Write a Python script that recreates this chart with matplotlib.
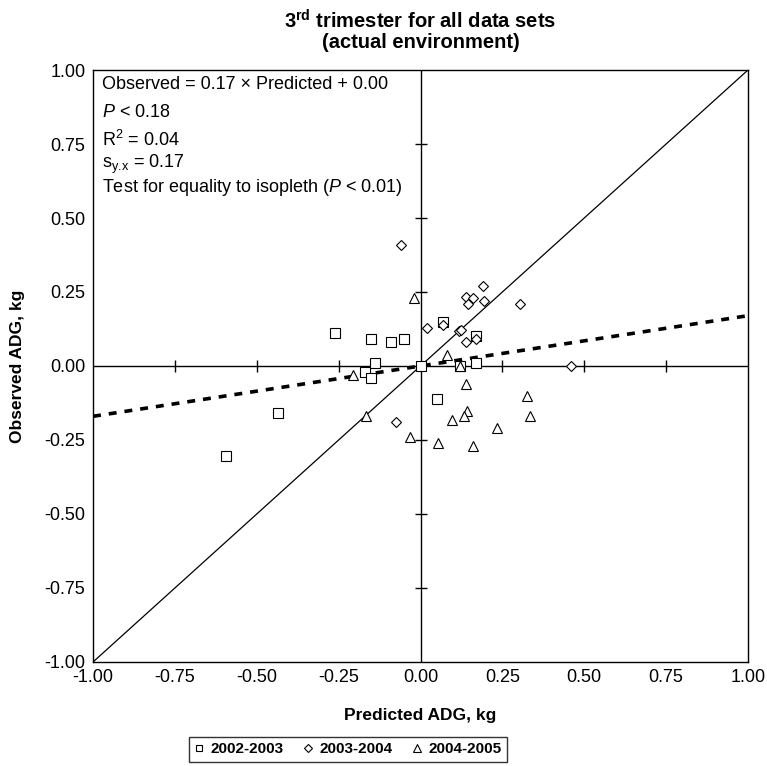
import matplotlib
matplotlib.use('Agg')
import matplotlib.pyplot as plt
import numpy as np

plt.rcParams['font.family'] = ['Liberation Sans', 'DejaVu Sans']
plt.rcParams['mathtext.fontset'] = 'custom'
plt.rcParams['mathtext.rm'] = 'Liberation Sans'
plt.rcParams['mathtext.it'] = 'Liberation Sans:italic'
plt.rcParams['mathtext.bf'] = 'Liberation Sans:bold'

# Data (predicted, observed ADG in kg)
pred_0203 = [-0.26, -0.15, -0.09, -0.05, 0.07, 0.17, -0.14, -0.17, -0.15, 0.00, 0.12, 0.17, 0.05, -0.435, -0.595]
obs_0203 = [0.11, 0.09, 0.08, 0.09, 0.15, 0.10, 0.01, -0.02, -0.04, 0.00, 0.00, 0.01, -0.11, -0.16, -0.305]

pred_0304 = [0.19, 0.14, 0.16, 0.146, 0.194, 0.305, 0.02, 0.07, 0.119, 0.125, 0.138, 0.168, -0.074, -0.06, 0.46]
obs_0304 = [0.27, 0.233, 0.23, 0.21, 0.22, 0.211, 0.13, 0.139, 0.119, 0.123, 0.08, 0.092, -0.19, 0.41, 0.00]

pred_0405 = [-0.02, 0.08, 0.12, -0.205, 0.138, 0.324, 0.141, 0.134, 0.097, 0.334, 0.234, -0.167, -0.033, 0.052, 0.161]
obs_0405 = [0.23, 0.038, 0.00, -0.032, -0.06, -0.10, -0.151, -0.17, -0.181, -0.17, -0.211, -0.17, -0.239, -0.26, -0.271]

series_labels = ['2002-2003', '2003-2004', '2004-2005']

# Regression of observed on predicted
slope = 0.17
intercept = 0.00

ticks = np.arange(-1.0, 1.01, 0.25)
tick_labels = ['%.2f' % t for t in ticks]

stats_lines = [
    'Observed = 0.17 \u00d7 Predicted + 0.00',
    '$P$ < 0.18',
    'R$^2$ = 0.04',
    's$_{\\mathrm{y.\\!x}}$ = 0.17',
    'Test for equality to isopleth ($P$ < 0.01)',
]

fig = plt.figure(figsize=(7.67, 7.66), dpi=100)
ax = fig.add_axes([0.1213, 0.1358, 0.8539, 0.7728])

# isopleth and regression line
line_x = np.array([-1.0, 1.0])
ax.plot(line_x, line_x, color='black', lw=0.9, zorder=2)
ax.plot(line_x, slope * line_x + intercept, color='black', lw=2.6, ls=(0, (2.2, 2.2)), zorder=2)

# axes through origin with crossing ticks
ax.axhline(0, color='black', lw=1.0, zorder=1)
ax.axvline(0, color='black', lw=1.0, zorder=1)
inner = ticks[(ticks != 0) & (np.abs(ticks) < 1)]
ax.plot(inner, np.zeros_like(inner), ls='none', marker='|', ms=8, mew=1.0, color='black', zorder=1)
ax.plot(np.zeros_like(inner), inner, ls='none', marker='_', ms=8, mew=1.0, color='black', zorder=1)

mk = dict(ls='none', mfc='white', mec='black', mew=0.8, zorder=3)
ax.plot(pred_0203, obs_0203, marker='s', ms=6.5, label=series_labels[0], **mk)
ax.plot(pred_0304, obs_0304, marker='D', ms=5.5, label=series_labels[1], **mk)
ax.plot(pred_0405, obs_0405, marker='^', ms=7.5, label=series_labels[2], **mk)

ax.set_xlim(-1, 1)
ax.set_ylim(-1, 1)
ax.set_xticks(ticks)
ax.set_yticks(ticks)
ax.set_xticklabels(tick_labels)
ax.set_yticklabels(tick_labels)
ax.tick_params(length=0, labelsize=13)
ax.tick_params(axis='y', pad=5.5)
ax.tick_params(axis='x', pad=5)
for s in ax.spines.values():
    s.set_linewidth(1.0)

ax.set_xlabel('Predicted ADG, kg', fontsize=12.5, fontweight='bold', labelpad=16)
ax.set_ylabel('Observed ADG, kg', fontsize=12.5, fontweight='bold', labelpad=14)
ax.set_title('3$^{\\mathbf{rd}}$ trimester for all data sets\n(actual environment)',
             fontsize=14.5, fontweight='bold', pad=16, linespacing=1.05)

# stats annotation
line_y = [0.975, 0.928, 0.882, 0.840, 0.801]
for txt, yy in zip(stats_lines, line_y):
    ax.text(0.013, yy, txt, transform=ax.transAxes, fontsize=13, va='center', ha='left')

leg = fig.legend(loc='upper center', bbox_to_anchor=(348 / 767, 1 - 737 / 766), ncol=3,
                 frameon=True, fancybox=False, edgecolor='black', markerscale=0.7,
                 handlelength=0.6, handletextpad=0.45, columnspacing=1.3,
                 prop={'weight': 'bold', 'size': 11}, borderpad=0.35, borderaxespad=0)
leg.get_frame().set_linewidth(1.0)

fig.savefig('out.png', dpi=100)
